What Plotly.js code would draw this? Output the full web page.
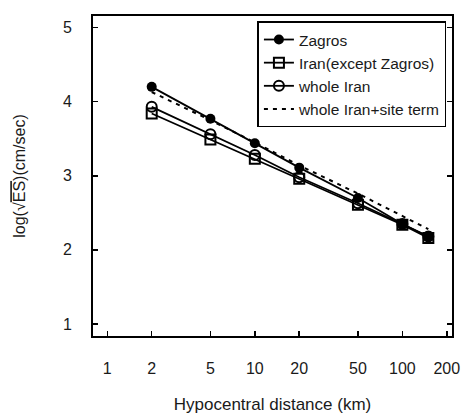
<!DOCTYPE html>
<html><head><meta charset="utf-8">
<script src="https://cdn.plot.ly/plotly-3.0.1.min.js"></script>
<style>html,body{margin:0;padding:0;background:#fff}#chart{width:461px;height:414px}</style>
</head><body><div id="chart"></div>
<script>
const distance = [2, 5, 10, 20, 50, 100, 150];
const zagros = [4.20, 3.77, 3.44, 3.11, 2.70, 2.35, 2.18];
const iranExceptZagros = [3.84, 3.49, 3.23, 2.96, 2.61, 2.34, 2.16];
const wholeIran = [3.93, 3.56, 3.28, 2.98, 2.63, 2.35, 2.18];
const wholeIranSite = [4.13, 3.75, 3.45, 3.14, 2.76, 2.45, 2.28];
const xTicks = [1, 2, 5, 10, 20, 50, 100, 200];
const yTicks = [1, 2, 3, 4, 5];

const lineW = 1.8;
const traces = [
  {x: distance, y: zagros, name: 'Zagros', mode: 'lines+markers',
   line: {color: '#000', width: lineW}, marker: {symbol: 'circle', size: 10, color: '#000'}},
  {x: distance, y: iranExceptZagros, name: 'Iran(except Zagros)', mode: 'lines+markers',
   line: {color: '#000', width: lineW}, marker: {symbol: 'square-open', size: 10, color: '#000', line: {width: 2}}},
  {x: distance, y: wholeIran, name: 'whole Iran', mode: 'lines+markers',
   line: {color: '#000', width: lineW}, marker: {symbol: 'circle-open', size: 10, color: '#000', line: {width: 2}}},
  {x: distance, y: wholeIranSite, name: 'whole Iran+site term', mode: 'lines',
   line: {color: '#000', width: 2, dash: '4px,5px'}}
];

const layout = {
  width: 461, height: 414,
  margin: {l: 93, r: 9, t: 16, b: 78},
  paper_bgcolor: '#fff', plot_bgcolor: '#fff',
  font: {family: 'Liberation Sans, Arial, sans-serif', size: 16, color: '#1a1a1a'},
  showlegend: true,
  legend: {x: 0.458, y: 0.983, xanchor: 'left', yanchor: 'top',
    bordercolor: '#000', borderwidth: 1.5, bgcolor: '#fff',
    font: {size: 15.5, color: '#1a1a1a'}, tracegroupgap: 0, itemwidth: 30},
  xaxis: {type: 'log', range: [Math.log10(0.8), Math.log10(217)],
    tickvals: xTicks, ticktext: xTicks.map(String),
    ticks: 'inside', ticklen: 5, tickwidth: 1.5, tickcolor: '#000',
    showline: true, linecolor: '#000', linewidth: 2, mirror: true,
    showgrid: false, zeroline: false, ticklabelstandoff: 17,
    title: {text: 'Hypocentral distance (km)', font: {size: 17}, standoff: 24}},
  yaxis: {range: [0.838, 5.156],
    tickvals: yTicks, ticks: 'inside', ticklen: 5, tickwidth: 1.5, tickcolor: '#000',
    showline: true, linecolor: '#000', linewidth: 2, mirror: 'ticks',
    showgrid: false, zeroline: false, ticklabelstandoff: 16,
    title: {text: "log(√<span style='text-decoration:overline'>ES</span>)(cm/sec)", font: {size: 16}, standoff: 33}}
};
Plotly.newPlot('chart', traces, layout, {staticPlot: true, displayModeBar: false});
</script></body></html>
